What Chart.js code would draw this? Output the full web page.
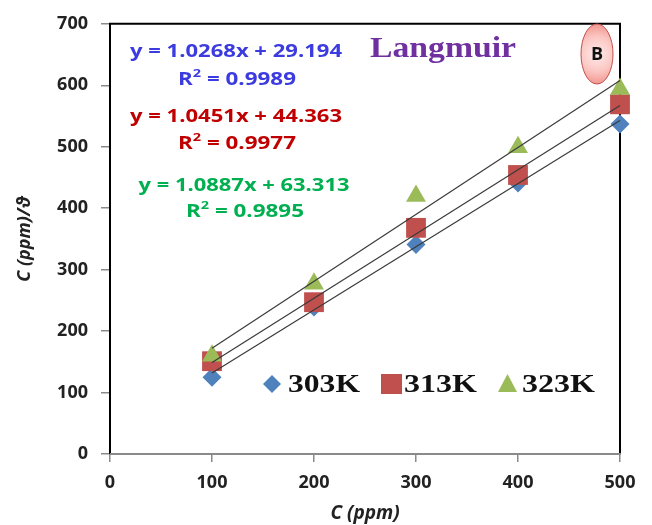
<!DOCTYPE html>
<html>
<head>
<meta charset="utf-8">
<script src="https://cdn.jsdelivr.net/npm/chart.js@4.4.1/dist/chart.umd.min.js"></script>
<style>
  html, body { margin: 0; padding: 0; background: #ffffff; }
  #wrap { width: 652px; height: 525px; position: relative; }
</style>
</head>
<body>
<div id="wrap"><canvas id="chart" width="652" height="525"></canvas></div>
<script>
// Concentrations (ppm) and C/θ values for each temperature
const concentrations = [100, 200, 300, 400, 500];
const ratio303 = [125, 239, 341, 441, 537];
const ratio313 = [151, 247, 368, 454, 569];
const ratio323 = [160, 277, 420, 499, 594];

// Linear fit coefficients [slope, intercept] and R² for each series
const fit303 = [1.0268, 29.194];
const fit313 = [1.0451, 44.363];
const fit323 = [1.0887, 63.313];
const r2Values = ['0.9989', '0.9977', '0.9895'];
const seriesLabels = ['303K', '313K', '323K'];

const xTicks = [0, 100, 200, 300, 400, 500];
const yTicks = [0, 100, 200, 300, 400, 500, 600, 700];

const BLUE = '#4F81BD', RED = '#C0504D', GREEN = '#9BBB59';

function fitLine(coef) {
  const x0 = concentrations[0], x1 = concentrations[concentrations.length - 1];
  return [{x: x0, y: coef[0] * x0 + coef[1]}, {x: x1, y: coef[0] * x1 + coef[1]}];
}
function points(ys) { return concentrations.map((x, i) => ({x, y: ys[i]})); }

// Draw a run of text segments, squeezed/stretched to a target width
function drawRuns(ctx, runs, cx, cy, targetWidth, color) {
  let total = 0;
  runs.forEach(r => { ctx.font = r.font; r.w = ctx.measureText(r.text).width; total += r.w; });
  const sx = targetWidth ? targetWidth / total : 1;
  ctx.save();
  ctx.translate(cx - total * sx / 2, cy);
  ctx.scale(sx, 1);
  ctx.fillStyle = color;
  ctx.textBaseline = 'middle';
  ctx.textAlign = 'left';
  let x = 0;
  runs.forEach(r => { ctx.font = r.font; ctx.fillText(r.text, x, r.dy || 0); x += r.w; });
  ctx.restore();
}

const SANS = '"Open Sans", "Noto Sans", sans-serif';
const SERIF = '"Liberation Serif", "DejaVu Serif", serif';

const annotations = {
  id: 'annotations',
  beforeDatasetsDraw(chart) {
    // plot frame
    const ctx = chart.ctx;
    const a = chart.chartArea;
    ctx.save();
    ctx.lineWidth = 2;
    ctx.strokeStyle = '#000';
    ctx.beginPath();
    ctx.moveTo(a.left, a.bottom);
    ctx.lineTo(a.left, a.top);
    ctx.lineTo(a.right, a.top);
    ctx.lineTo(a.right, a.bottom);
    ctx.stroke();
    ctx.strokeStyle = '#8a8a8a';
    ctx.beginPath();
    ctx.moveTo(a.left, a.bottom);
    ctx.lineTo(a.right + 1, a.bottom);
    ctx.stroke();
    ctx.restore();
  },
  afterDraw(chart) {
    const ctx = chart.ctx;

    // regression equations
    const eqFont = 'bold 17px ' + SANS;
    const supFont = 'bold 11px ' + SANS;
    const eqs = [
      {coef: fit303, r2: r2Values[0], color: '#3B3BE0', y1: 52, y2: 80, cx1: 236, w1: 212, cx2: 237, w2: 118},
      {coef: fit313, r2: r2Values[1], color: '#C00000', y1: 117, y2: 144, cx1: 236, w1: 212, cx2: 237, w2: 118},
      {coef: fit323, r2: r2Values[2], color: '#00B050', y1: 186, y2: 212, cx1: 244, w1: 211, cx2: 245, w2: 118}
    ];
    eqs.forEach(e => {
      drawRuns(ctx, [{text: 'y = ' + e.coef[0].toFixed(4) + 'x + ' + e.coef[1].toFixed(3), font: eqFont}], e.cx1, e.y1, e.w1, e.color);
      drawRuns(ctx, [
        {text: 'R', font: eqFont},
        {text: '2', font: supFont, dy: -6},
        {text: ' = ' + e.r2, font: eqFont}
      ], e.cx2, e.y2, e.w2, e.color);
    });

    // model name
    drawRuns(ctx, [{text: 'Langmuir', font: 'bold 29px ' + SERIF}], 443, 50, 146, '#7030A0');

    // panel badge
    ctx.save();
    const bx = 597, by = 54;
    const g = ctx.createRadialGradient(bx, by, 2, bx, by, 30);
    g.addColorStop(0, '#FEE8E6');
    g.addColorStop(0.55, '#FBC6C2');
    g.addColorStop(1, '#F29690');
    ctx.fillStyle = g;
    ctx.beginPath();
    ctx.ellipse(bx, by, 16, 30, 0, 0, Math.PI * 2);
    ctx.fill();
    ctx.lineWidth = 1;
    ctx.strokeStyle = '#C0504D';
    ctx.stroke();
    ctx.fillStyle = '#111';
    ctx.font = 'bold 18px ' + SANS;
    ctx.textAlign = 'center';
    ctx.textBaseline = 'middle';
    ctx.fillText('B', bx, by + 1);
    ctx.restore();

    // legend
    const ly = 384;
    const legFont = 'bold 26px ' + SERIF;
    ctx.save();
    ctx.fillStyle = BLUE;
    ctx.beginPath();
    ctx.moveTo(272, ly - 9); ctx.lineTo(281, ly); ctx.lineTo(272, ly + 9); ctx.lineTo(263, ly);
    ctx.closePath(); ctx.fill();
    ctx.fillStyle = RED;
    ctx.fillRect(381, ly - 10, 21, 20);
    ctx.fillStyle = GREEN;
    ctx.beginPath();
    ctx.moveTo(507.5, ly - 10); ctx.lineTo(517, ly + 8); ctx.lineTo(498, ly + 8);
    ctx.closePath(); ctx.fill();
    ctx.restore();
    drawRuns(ctx, [{text: seriesLabels[0], font: legFont}], 324, ly + 1, 72, '#111');
    drawRuns(ctx, [{text: seriesLabels[1], font: legFont}], 440.5, ly + 1, 73, '#111');
    drawRuns(ctx, [{text: seriesLabels[2], font: legFont}], 558.5, ly + 1, 73, '#111');
  }
};

// Excel-style series stacking: later series on top, trendlines above all
const trendStyle = {type: 'line', borderColor: '#3a3a3a', borderWidth: 1.2, pointRadius: 0, fill: false, showLine: true, order: 0, clip: false};

new Chart(document.getElementById('chart'), {
  type: 'scatter',
  data: {
    datasets: [
      Object.assign({label: 'fit303', data: fitLine(fit303)}, trendStyle),
      Object.assign({label: 'fit313', data: fitLine(fit313)}, trendStyle),
      Object.assign({label: 'fit323', data: fitLine(fit323)}, trendStyle),
      {label: seriesLabels[2], data: points(ratio323), pointStyle: 'triangle', pointRadius: 11.5, backgroundColor: GREEN, borderColor: GREEN, borderWidth: 0, order: 1, clip: false},
      {label: seriesLabels[1], data: points(ratio313), pointStyle: 'rect', pointRadius: 14, backgroundColor: RED, borderColor: RED, borderWidth: 0, order: 2, clip: false},
      {label: seriesLabels[0], data: points(ratio303), pointStyle: 'rectRot', pointRadius: 9.5, backgroundColor: BLUE, borderColor: BLUE, borderWidth: 0, order: 3, clip: false}
    ]
  },
  options: {
    responsive: false,
    animation: false,
    layout: {padding: {left: 0, top: 22, right: 32, bottom: 0}},
    plugins: {legend: {display: false}, tooltip: {enabled: false}},
    scales: {
      x: {
        type: 'linear', min: 0, max: 500,
        afterBuildTicks: s => { s.ticks = xTicks.map(v => ({value: v})); },
        afterFit: s => { s.height = 71; },
        grid: {drawOnChartArea: false, color: '#8a8a8a', tickLength: 8, lineWidth: 1.5},
        border: {display: false},
        ticks: {color: '#222', font: {family: SANS, size: 18, weight: 'bold'}, padding: 10, maxRotation: 0},
        title: {display: true, text: 'C (ppm)', color: '#222', font: {family: SANS, size: 19, weight: 'bold', style: 'italic'}, padding: {top: 0, bottom: 0}}
      },
      y: {
        type: 'linear', min: 0, max: 700,
        afterBuildTicks: s => { s.ticks = yTicks.map(v => ({value: v})); },
        afterFit: s => { s.width = 110; },
        grid: {drawOnChartArea: false, color: '#8a8a8a', tickLength: 9, lineWidth: 1.5},
        border: {display: false},
        ticks: {color: '#222', font: {family: SANS, size: 18, weight: 'bold'}, padding: 13},
        title: {display: true, text: 'C (ppm)/ϑ', color: '#222', font: {family: SANS, size: 18, weight: 'bold', style: 'italic'}, padding: {top: 14, bottom: 0}}
      }
    }
  },
  plugins: [annotations]
});
</script>
</body>
</html>
